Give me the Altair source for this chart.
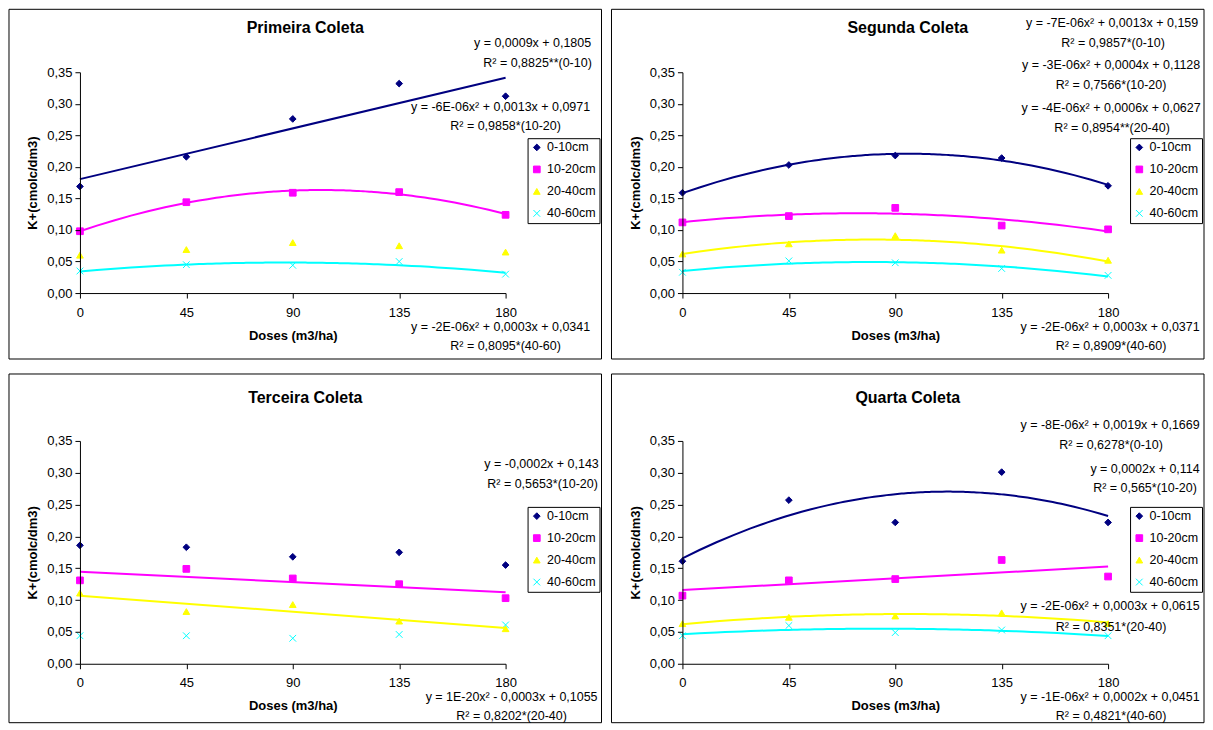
import altair as alt
import pandas as pd

FONT = "Liberation Sans"

DOSES = [0, 45, 90, 135, 180]
Y_TICKS = [0.0, 0.05, 0.10, 0.15, 0.20, 0.25, 0.30, 0.35]
DEPTHS = ["0-10cm", "10-20cm", "20-40cm", "40-60cm"]
COLORS = ["#000080", "#FF00FF", "#FFFF00", "#00FFFF"]
SHAPES = ["diamond", "square", "triangle-up", "M-1,-1L1,1M-1,1L1,-1"]

TITLES = ["Primeira Coleta", "Segunda Coleta", "Terceira Coleta", "Quarta Coleta"]

# K+ (cmolc/dm3) per depth, at doses 0, 45, 90, 135, 180
PRIMEIRA_0_10 = [0.169, 0.216, 0.276, 0.332, 0.312]
PRIMEIRA_10_20 = [0.098, 0.144, 0.159, 0.160, 0.124]
PRIMEIRA_20_40 = [0.060, 0.069, 0.080, 0.075, 0.065]
PRIMEIRA_40_60 = [0.035, 0.045, 0.044, 0.050, 0.030]

SEGUNDA_0_10 = [0.159, 0.203, 0.218, 0.214, 0.170]
SEGUNDA_10_20 = [0.112, 0.122, 0.135, 0.107, 0.101]
SEGUNDA_20_40 = [0.062, 0.078, 0.091, 0.068, 0.052]
SEGUNDA_40_60 = [0.033, 0.051, 0.048, 0.039, 0.028]

TERCEIRA_0_10 = [0.186, 0.183, 0.168, 0.175, 0.155]
TERCEIRA_10_20 = [0.131, 0.149, 0.134, 0.125, 0.103]
TERCEIRA_20_40 = [0.111, 0.082, 0.093, 0.067, 0.055]
TERCEIRA_40_60 = [0.044, 0.044, 0.040, 0.046, 0.061]

QUARTA_0_10 = [0.161, 0.257, 0.222, 0.301, 0.222]
QUARTA_10_20 = [0.107, 0.131, 0.133, 0.163, 0.137]
QUARTA_20_40 = [0.063, 0.073, 0.075, 0.080, 0.063]
QUARTA_40_60 = [0.044, 0.060, 0.049, 0.053, 0.044]

SERIES = [
    [PRIMEIRA_0_10, PRIMEIRA_10_20, PRIMEIRA_20_40, PRIMEIRA_40_60],
    [SEGUNDA_0_10, SEGUNDA_10_20, SEGUNDA_20_40, SEGUNDA_40_60],
    [TERCEIRA_0_10, TERCEIRA_10_20, TERCEIRA_20_40, TERCEIRA_40_60],
    [QUARTA_0_10, QUARTA_10_20, QUARTA_20_40, QUARTA_40_60],
]

# trendlines: (depth, method)
TRENDS = [
    [("0-10cm", "linear"), ("10-20cm", "poly"), ("40-60cm", "poly")],
    [("0-10cm", "poly"), ("10-20cm", "poly"), ("20-40cm", "poly"), ("40-60cm", "poly")],
    [("10-20cm", "linear"), ("20-40cm", "linear")],
    [("0-10cm", "poly"), ("10-20cm", "linear"), ("20-40cm", "poly"), ("40-60cm", "poly")],
]

EQUATIONS = [
    ["y = 0,0009x + 0,1805", "R² = 0,8825**(0-10)",
     "y = -6E-06x² + 0,0013x + 0,0971", "R² = 0,9858*(10-20)",
     "y = -2E-06x² + 0,0003x + 0,0341", "R² = 0,8095*(40-60)"],
    ["y = -7E-06x² + 0,0013x + 0,159", "R² = 0,9857*(0-10)",
     "y = -3E-06x² + 0,0004x + 0,1128", "R² = 0,7566*(10-20)",
     "y = -4E-06x² + 0,0006x + 0,0627", "R² = 0,8954**(20-40)",
     "y = -2E-06x² + 0,0003x + 0,0371", "R² = 0,8909*(40-60)"],
    ["y = -0,0002x + 0,143", "R² = 0,5653*(10-20)",
     "y = 1E-20x² - 0,0003x + 0,1055", "R² = 0,8202*(20-40)"],
    ["y = -8E-06x² + 0,0019x + 0,1669", "R² = 0,6278*(0-10)",
     "y = 0,0002x + 0,114", "R² = 0,565*(10-20)",
     "y = -2E-06x² + 0,0003x + 0,0615", "R² = 0,8351*(20-40)",
     "y = -1E-06x² + 0,0002x + 0,0451", "R² = 0,4821*(40-60)"],
]

# layout (pixel positions relative to each plot area)
EQ_POS = [
    [(453, -29), (458, -9), (421, 35), (426, 54), (421, 255), (426, 274)],
    [(430, -49), (431, -29), (429, -7), (429, 13), (429, 36), (430, 56), (428, 255), (429, 274)],
    [(462, 23), (463, 43), (432, 256), (432, 275)],
    [(428, -16), (429, 4), (463, 28), (463, 47), (428, 165), (429, 186), (428, 256), (429, 275)],
]
PLOT_W = 426
PLOT_H = [221, 221, 223, 223]
FRAME_TOP = [-63, -63, -67, -67]
FRAME_LEFT = -71
FRAME_RIGHT = 522
FRAME_BOTTOM = [66, 66, 59, 59]
TITLE_Y = [-44, -44, -43, -43]
EQ_SIZE = 12.5

ONE = pd.DataFrame({"f": [0]})


def text_layer(txt, x, y, size=EQ_SIZE, bold=False):
    return alt.Chart(ONE).mark_text(
        text=txt, font=FONT, fontSize=size,
        fontWeight="bold" if bold else "normal",
        align="center", baseline="middle", color="black",
    ).encode(x=alt.value(x), y=alt.value(y))


def panel(i):
    rows = []
    for d, vals in zip(DEPTHS, SERIES[i]):
        for dose, v in zip(DOSES, vals):
            rows.append({"dose": dose, "k": v, "depth": d})
    df = pd.DataFrame(rows)

    x = alt.X("dose:Q", scale=alt.Scale(domain=[0, 180], nice=False, zero=False),
              axis=alt.Axis(values=DOSES, title="Doses (m3/ha)", format="d",
                            labelFont=FONT, labelFontSize=13, labelColor="black",
                            titleFont=FONT, titleFontSize=13, titleFontWeight="bold",
                            titleColor="black", domainColor="black", tickColor="black",
                            tickSize=5, labelPadding=8, titlePadding=10, grid=False,
                            labelFlush=False, zindex=1))
    y = alt.Y("k:Q", scale=alt.Scale(domain=[0, 0.35], nice=False),
              axis=alt.Axis(values=Y_TICKS, title="K+(cmolc/dm3)",
                            labelExpr="replace(format(datum.value, '.2f'), '.', ',')",
                            labelFont=FONT, labelFontSize=13, labelColor="black",
                            titleFont=FONT, titleFontSize=13, titleFontWeight="bold",
                            titleColor="black", domainColor="black", tickColor="black",
                            tickSize=5, labelPadding=3, titlePadding=7, grid=False,
                            labelFlush=False, zindex=1))

    leg = alt.Legend(title=None, orient="none", legendX=448, legendY=66,
                     strokeColor="black", fillColor="white", padding=3,
                     labelFont=FONT, labelFontSize=12.5, labelColor="black",
                     rowPadding=9, symbolSize=45, symbolStrokeWidth=1, labelOffset=4)

    frame = alt.Chart(ONE).mark_rect(fillOpacity=0, stroke="black", strokeWidth=1).encode(
        x=alt.value(FRAME_LEFT), x2=alt.value(FRAME_RIGHT),
        y=alt.value(FRAME_TOP[i]), y2=alt.value(PLOT_H[i] + FRAME_BOTTOM[i]))

    pts = alt.Chart(df).mark_point(filled=True, opacity=1, size=45, strokeWidth=1).encode(
        x=x, y=y,
        color=alt.Color("depth:N", scale=alt.Scale(domain=DEPTHS, range=COLORS), legend=leg),
        stroke=alt.Stroke("depth:N", scale=alt.Scale(domain=DEPTHS, range=COLORS), legend=leg),
        shape=alt.Shape("depth:N", scale=alt.Scale(domain=DEPTHS, range=SHAPES), legend=leg),
    )

    layers = [frame, pts]
    for d, m in TRENDS[i]:
        c = COLORS[DEPTHS.index(d)]
        base = alt.Chart(df).transform_filter(alt.datum.depth == d)
        if m == "poly":
            base = base.transform_regression("dose", "k", method="poly", order=2)
        else:
            base = base.transform_regression("dose", "k", method="linear")
        layers.append(base.mark_line(color=c, strokeWidth=2).encode(x=x, y=y))

    cx = (FRAME_LEFT + FRAME_RIGHT) / 2
    layers.append(text_layer(TITLES[i], cx, TITLE_Y[i], size=16, bold=True))
    for txt, (px, py) in zip(EQUATIONS[i], EQ_POS[i]):
        layers.append(text_layer(txt, px, py))

    return alt.layer(*layers).properties(width=PLOT_W, height=PLOT_H[i])


chart = alt.concat(
    panel(0), panel(1), panel(2), panel(3),
    columns=2, spacing={"row": 13, "column": 8},
).resolve_legend(
    color="independent", shape="independent", stroke="independent"
).properties(
    padding=0, background="white"
).configure_view(
    stroke="transparent"
)

chart.save("out.html", embed_options={"renderer": "svg", "actions": False})
